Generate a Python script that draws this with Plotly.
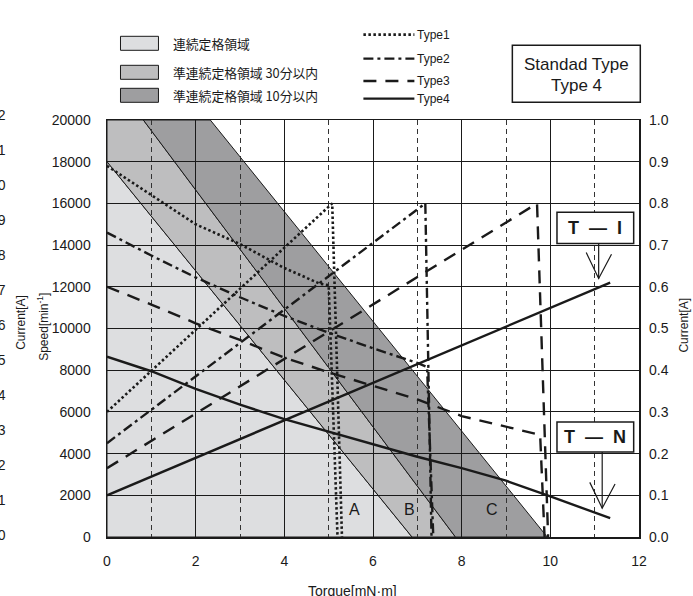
import plotly.graph_objects as go

# ---------------- data ----------------
torque_ticks = [0, 2, 4, 6, 8, 10, 12]
speed_ticks = [0, 2000, 4000, 6000, 8000, 10000, 12000, 14000, 16000, 18000, 20000]
current_ticks = [0.0, 0.1, 0.2, 0.3, 0.4, 0.5, 0.6, 0.7, 0.8, 0.9, 1.0]
left_cut_labels = ["1.2", "1.1", "1.0", "0.9", "0.8", "0.7", "0.6", "0.5", "0.4", "0.3", "0.2", "0.1", "0.0"]

# operating regions (torque, speed)
region_light_x = [0, 0, 6.88]
region_light_y = [0, 18000, 0]
region_mid_x = [0, 0, 0.82, 7.86, 6.88]
region_mid_y = [18000, 20000, 20000, 0, 0]
region_dark_x = [0.82, 2.33, 9.93, 7.86]
region_dark_y = [20000, 20000, 0, 0]
region_names = ["連続定格領域", "準連続定格領域 30分以内", "準連続定格領域 10分以内"]
region_labels = ["A", "B", "C"]
region_label_x = [5.59, 6.82, 8.69]
region_label_y = [800, 800, 800]

# Type1
t1_speed_x = [0, 1, 2, 3, 4, 4.8, 5.0, 5.2]
t1_speed_y = [17800, 16400, 15000, 14050, 12900, 12150, 12080, 0]
t1_cur_x = [0, 5.08, 5.3]
t1_cur_y = [0.30, 0.80, 0.0]
# Type2
t2_speed_x = [0, 1, 2, 3, 4, 5, 6, 7, 7.22, 7.36]
t2_speed_y = [14600, 13500, 12450, 11500, 10600, 9800, 9050, 8350, 8150, 0]
t2_cur_x = [0, 7.18, 7.32]
t2_cur_y = [0.225, 0.80, 0.0]
# Type3
t3_speed_x = [0, 1, 2, 3, 4, 5, 6, 7, 8, 9, 9.77, 9.87]
t3_speed_y = [12000, 11150, 10250, 9450, 8600, 7900, 7250, 6600, 5800, 5300, 4900, 0]
t3_cur_x = [0, 9.7, 9.95]
t3_cur_y = [0.165, 0.80, 0.0]
# Type4
t4_speed_x = [0, 1, 2, 3, 4, 5, 6, 7, 8, 9, 10, 11.35]
t4_speed_y = [8650, 7950, 7100, 6350, 5650, 5050, 4450, 3850, 3300, 2700, 1950, 900]
t4_cur_x = [0, 11.35]
t4_cur_y = [0.10, 0.61]

type_names = ["Type1", "Type2", "Type3", "Type4"]

# ---------------- layout geometry ----------------
FW, FH = 693, 596
L, R, T, B = 106.5, 54.3, 119.7, 59.3
W = FW - L - R
H = FH - T - B


def pxp(x):
    return (x - L) / W


def pyp(y):
    return (FH - B - y) / H


FONT = "Liberation Sans, Arial, Helvetica, sans-serif"
CJK = "Noto Sans CJK JP, sans-serif"
INK = "#1a1a1a"
NB = "\u00a0"

C_LIGHT = "#dddee0"
C_MID = "#bebebf"
C_DARK = "#9e9ea0"

fig = go.Figure()


def poly_path(xs, ys):
    p = "M %g,%g " % (xs[0], ys[0])
    for x, y in zip(xs[1:], ys[1:]):
        p += "L %g,%g " % (x, y)
    return p + "Z"


shapes = []
for xs, ys, col in [(region_light_x, region_light_y, C_LIGHT),
                    (region_mid_x, region_mid_y, C_MID),
                    (region_dark_x, region_dark_y, C_DARK)]:
    shapes.append(dict(type="path", xref="x", yref="y", path=poly_path(xs, ys),
                       fillcolor=col, line=dict(color=INK, width=1), layer="below"))

# curves
styles = {
    "Type1": dict(dash="2.5px,2.5px", width=2.6),
    "Type2": dict(dash="10px,4px,3px,4px", width=2.4),
    "Type3": dict(dash="13px,9px", width=2.4),
    "Type4": dict(dash="solid", width=2.4),
}
speed_sets = [(t1_speed_x, t1_speed_y), (t2_speed_x, t2_speed_y), (t3_speed_x, t3_speed_y), (t4_speed_x, t4_speed_y)]
cur_sets = [(t1_cur_x, t1_cur_y), (t2_cur_x, t2_cur_y), (t3_cur_x, t3_cur_y), (t4_cur_x, t4_cur_y)]
for name, (sx, sy), (cx, cy) in zip(type_names, speed_sets, cur_sets):
    st = styles[name]
    fig.add_trace(go.Scatter(x=sx, y=sy, mode="lines", name=name, showlegend=False, hoverinfo="skip",
                             line=dict(color=INK, width=st["width"], dash=st["dash"])))
    fig.add_trace(go.Scatter(x=cx, y=cy, mode="lines", name=name, showlegend=False, yaxis="y2", hoverinfo="skip",
                             line=dict(color=INK, width=st["width"], dash=st["dash"])))

annotations = []


def ann(**kw):
    kw.setdefault("showarrow", False)
    kw.setdefault("xanchor", "center")
    kw.setdefault("yanchor", "middle")
    annotations.append(kw)


for lab, lx, ly in zip(region_labels, region_label_x, region_label_y):
    ann(x=lx, y=ly, xref="x", yref="y", text=lab, yanchor="bottom",
        font=dict(family=FONT, size=16, color=INK))

# T-I and T-N boxes with arrows (in torque / current coordinates)
for txt, x0, x1, y0, y1, ax, ay0, ay1 in [("T" + NB * 2 + "—" + NB * 2 + "I", 10.15, 11.88, 0.704, 0.779, 11.09, 0.704, 0.620),
                                           ("T" + NB * 2 + "—" + NB * 2 + "N", 10.15, 11.88, 0.204, 0.276, 11.17, 0.204, 0.069)]:
    shapes.append(dict(type="rect", xref="x", yref="y2", x0=x0, x1=x1, y0=y0, y1=y1,
                       fillcolor="white", line=dict(color=INK, width=1.5), layer="above"))
    shapes.append(dict(type="line", xref="x", yref="y2", x0=ax, x1=ax, y0=ay0, y1=ay1,
                       line=dict(color=INK, width=1.2)))
    shapes.append(dict(type="path", xref="x", yref="y2",
                       path="M %g,%g L %g,%g L %g,%g" % (ax - 0.28, ay1 + 0.062, ax, ay1, ax + 0.29, ay1 + 0.058),
                       line=dict(color=INK, width=1.2)))
    ann(x=(x0 + x1) / 2, y=(y0 + y1) / 2, xref="x", yref="y2", text="<b>%s</b>" % txt,
        font=dict(family=FONT, size=18, color=INK))

# legend: region swatches
leg_rect_py = [(36, 50), (65, 79), (88, 102)]
leg_txt_py = [43, 72, 95]
for (ya, yb), col, nm, ty in zip(leg_rect_py, [C_LIGHT, C_MID, C_DARK], region_names, leg_txt_py):
    shapes.append(dict(type="rect", xref="paper", yref="paper", x0=pxp(120), x1=pxp(158),
                       y0=pyp(yb), y1=pyp(ya), fillcolor=col, line=dict(color=INK, width=1)))
    ann(x=pxp(171), y=pyp(ty), xref="paper", yref="paper", text=nm, xanchor="left",
        font=dict(family=CJK, size=12.8, color=INK))

# legend: line styles
leg_line_py = [34.3, 58.3, 80.7, 98.3]
for nm, ly in zip(type_names, leg_line_py):
    st = styles[nm]
    shapes.append(dict(type="line", xref="paper", yref="paper", x0=pxp(363), x1=pxp(414),
                       y0=pyp(ly), y1=pyp(ly), line=dict(color=INK, width=st["width"], dash=st["dash"])))
    ann(x=pxp(415), y=pyp(ly), xref="paper", yref="paper", text=nm, xanchor="left",
        font=dict(family=FONT, size=12, color=INK))

# Standard type box
shapes.append(dict(type="rect", xref="paper", yref="paper", x0=pxp(512), x1=pxp(640),
                   y0=pyp(102), y1=pyp(45), line=dict(color=INK, width=1.5), fillcolor="white"))
ann(x=pxp(576), y=pyp(64), xref="paper", yref="paper", text="Standad Type",
    font=dict(family=FONT, size=17, color=INK))
ann(x=pxp(576), y=pyp(85), xref="paper", yref="paper", text="Type 4",
    font=dict(family=FONT, size=17, color=INK))

# cut-off axis remnants at left edge
for i, lab in enumerate(left_cut_labels):
    ann(x=pxp(7), y=pyp(115 + 35 * i), xref="paper", yref="paper", text=lab, xanchor="right",
        font=dict(family=FONT, size=14, color=INK))
ann(x=pxp(21), y=pyp(322), xref="paper", yref="paper", text="Current[A]", textangle=-90,
    font=dict(family=FONT, size=12, color=INK))

# axis titles
ann(x=pxp(43), y=pyp(327), xref="paper", yref="paper", text="Speed[min<sup>-1</sup>]",
    textangle=-90, font=dict(family=FONT, size=12, color=INK))
ann(x=pxp(684), y=pyp(325), xref="paper", yref="paper", text="Current[A]",
    textangle=-90, font=dict(family=FONT, size=12, color=INK))
ann(x=pxp(352), y=pyp(581), xref="paper", yref="paper", text="Torque[mN·m]",
    yanchor="top", font=dict(family=FONT, size=14, color=INK))

fig.update_layout(
    width=FW, height=FH,
    margin=dict(l=L, r=R, t=T, b=B, pad=0),
    paper_bgcolor="white", plot_bgcolor="white",
    showlegend=False, hovermode=False,
    shapes=shapes, annotations=annotations,
    xaxis=dict(range=[0, 12], tickvals=torque_ticks, ticktext=[str(v) for v in torque_ticks],
               showgrid=True, gridcolor=INK, gridwidth=1,
               minor=dict(dtick=1, tick0=0, showgrid=True, gridcolor="#333333", gridwidth=1, griddash="5px,4px"),
               showline=True, linecolor=INK, linewidth=1.5, mirror=True, zeroline=False,
               ticks="", ticklabelstandoff=11, tickfont=dict(family=FONT, size=14, color=INK)),
    yaxis=dict(range=[0, 20000], tickvals=speed_ticks, ticktext=[str(v) for v in speed_ticks],
               showgrid=True, gridcolor=INK, gridwidth=1,
               showline=True, linecolor=INK, linewidth=1.5, mirror=True,
               zeroline=True, zerolinecolor=INK, zerolinewidth=3,
               ticks="", ticklabelstandoff=12, tickfont=dict(family=FONT, size=14, color=INK)),
    yaxis2=dict(range=[0, 1.0], tickvals=current_ticks, ticktext=["%.1f" % v for v in current_ticks],
                overlaying="y", side="right", showgrid=False, zeroline=False, showline=False,
                ticks="", ticklabelstandoff=9, tickfont=dict(family=FONT, size=14, color=INK)),
)

fig.write_html("out.html", config={"displayModeBar": False, "staticPlot": True},
               post_script="document.body.style.margin='0';document.body.style.padding='0';")
